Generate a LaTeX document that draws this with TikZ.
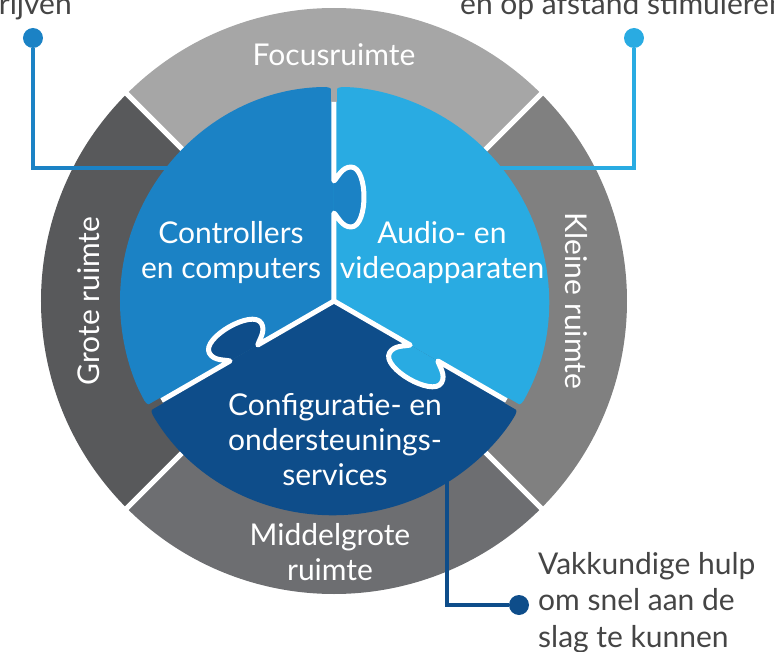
\documentclass[tikz,border=0pt]{standalone}
\usepackage{fontspec}
\setmainfont{Lato}
\definecolor{focusgray}{HTML}{A6A6A6}
\definecolor{kleinegray}{HTML}{808080}
\definecolor{middelgray}{HTML}{6D6E71}
\definecolor{grotegray}{HTML}{58595B}
\definecolor{ctrlblue}{HTML}{1B82C5}
\definecolor{audioblue}{HTML}{29ABE2}
\definecolor{confblue}{HTML}{0E4D8A}
\definecolor{calltext}{HTML}{454545}
\tikzset{
  ringlabel/.style={text=white,font=\fontsize{30}{35}\selectfont,align=center,inner sep=0},
  piecelabel/.style={text=white,font=\fontsize{30}{35}\selectfont,align=center,inner sep=0},
  calllabel/.style={text=calltext,font=\fontsize{30}{36.5}\selectfont,align=left,inner sep=0},
  calldot/.style={circle,fill=#1,minimum size=20,inner sep=0},
  callline/.style={draw=#1,line width=4.5},
  seam/.style={white,line width=5,line join=round},
  knob/.style={insert path={.. controls (84,-4) and (74,-8) .. (74,-17)
    .. controls (74,-26) and (90,-30) .. (104,-30)
    .. controls (118,-30) and (134,-26) .. (134,-17)
    .. controls (134,-8) and (124,-4) .. (120,0)}}
}
\begin{document}
\begin{tikzpicture}[x=1pt,y=1pt]
\useasboundingbox (-334,-350) rectangle (440,301);
\clip (-334,-350) rectangle (440,301);
% ring of rooms
\foreach \a/\c in {45/focusgray,135/grotegray,225/middelgray,315/kleinegray}
  \fill[\c] (0,0) -- (\a:293) arc[start angle=\a,delta angle=90,radius=293] -- cycle;
\foreach \a in {45,135,225,315}
  \draw[seam] (0,0) -- (\a:296);
\node[ringlabel,anchor=base] (focus) at (0,235) {Focusruimte};
\node[ringlabel,rotate=90] (grote) at (-245,0) {Grote ruimte};
\node[ringlabel,rotate=-90] (kleine) at (242,0) {Kleine ruimte};
\node[ringlabel,anchor=base] (middel) at (-4,-279) {Middelgrote\\ruimte};
% callouts
\node[calldot=ctrlblue] (dotctrl) at (-301,263) {};
\node[calldot=audioblue] (dotaudio) at (300,263) {};
\node[calldot=confblue] (dotconf) at (185,-304) {};
\coordinate (ctrlend) at (-130,133);
\coordinate (audioend) at (130,133);
\coordinate (confstart) at (113,-160);
\draw[callline=ctrlblue] (dotctrl) |- (ctrlend);
\draw[callline=audioblue] (dotaudio) |- (audioend);
\draw[callline=confblue] (confstart) |- (dotconf);
% puzzle pieces
\foreach \a/\c in {90/ctrlblue,210/confblue,330/audioblue}
  \fill[\c,rounded corners=8] (0,0) -- (\a:214) arc[start angle=\a,delta angle=120,radius=214] -- cycle;
\foreach \a/\c in {90/ctrlblue,210/confblue,330/audioblue}
  \fill[\c,rotate=\a] (88,0) [knob] -- cycle;
\foreach \a/\g in {90/focusgray,210/grotegray,330/kleinegray}{
  \draw[\g,line width=6,rotate=\a] (199,0) -- (218,0);
  \draw[seam,rotate=\a] (0,0) -- (88,0) [knob] -- (199,0);
}
\node[piecelabel,anchor=base] (ctrl) at (-103,23) {Controllers\\en computers};
\node[piecelabel,anchor=base] (audio) at (108,23) {Audio- en\\videoapparaten};
\node[piecelabel,anchor=base] (config) at (1,-184) {Configuratie- en\\ondersteunings-\\services};
% texts outside
\node[calllabel,anchor=base west] (hulp) at (204,-346) {Vakkundige hulp\\om snel aan de\\slag te kunnen};
\node[calllabel,anchor=base east] (topleft) at (-262,286) {rijven};
\node[calllabel,anchor=base west] (topright) at (126,286) {en op afstand stimuleren};
\end{tikzpicture}
\end{document}
